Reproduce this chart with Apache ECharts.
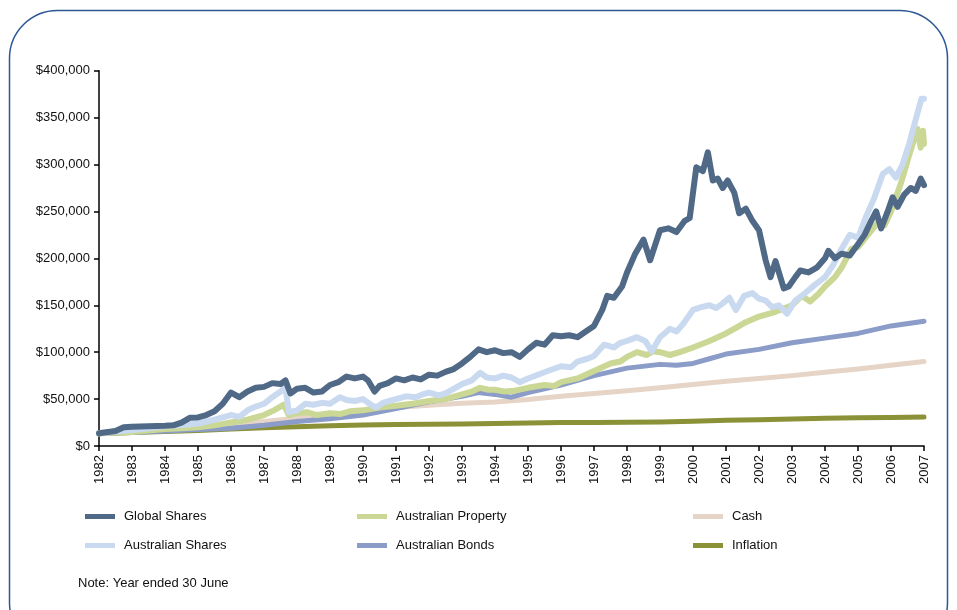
<!DOCTYPE html>
<html>
<head>
<meta charset="utf-8">
<script src="https://cdn.jsdelivr.net/npm/echarts@6/dist/echarts.min.js"></script>
<style>
html,body{margin:0;padding:0;background:#fff;}
#c{width:957px;height:610px;}
</style>
</head>
<body>
<div id="c"></div>
<script>
// Data: [year (year ended 30 June), value in $]
const globalShares = [
[1982.00,13500],[1982.50,16000],[1982.75,20000],[1983.00,20500],[1983.50,21000],[1984.00,21500],[1984.25,22000],
[1984.50,25000],[1984.75,30000],[1985.00,30500],[1985.25,33000],[1985.50,37000],[1985.75,45000],[1986.00,57000],
[1986.25,52000],[1986.50,58000],[1986.75,62000],[1987.00,63000],[1987.25,67000],[1987.50,66000],[1987.65,70000],
[1987.80,56000],[1988.00,61000],[1988.25,62000],[1988.50,57000],[1988.75,58000],[1989.00,65000],[1989.25,68000],
[1989.50,74000],[1989.75,72000],[1990.00,74000],[1990.15,70000],[1990.35,58000],[1990.50,64000],[1990.75,67000],
[1991.00,72000],[1991.25,70000],[1991.50,73000],[1991.75,71000],[1992.00,76000],[1992.25,75000],[1992.50,79000],
[1992.75,82000],[1993.00,88000],[1993.25,95000],[1993.50,103000],[1993.75,100000],[1994.00,102000],[1994.25,99000],
[1994.50,100000],[1994.75,95000],[1995.00,103000],[1995.25,110000],[1995.50,108000],[1995.75,118000],[1996.00,117000],
[1996.25,118000],[1996.50,116000],[1996.75,122000],[1997.00,128000],[1997.25,145000],[1997.40,160000],[1997.60,158000],
[1997.85,170000],[1998.00,185000],[1998.25,205000],[1998.50,220000],[1998.70,198000],[1999.00,230000],[1999.25,232000],
[1999.50,228000],[1999.75,240000],[1999.90,243000],[2000.00,270000],[2000.10,297000],[2000.30,293000],[2000.45,313000],
[2000.60,283000],[2000.75,285000],[2000.90,275000],[2001.05,283000],[2001.25,270000],[2001.40,248000],[2001.60,253000],
[2001.80,240000],[2002.00,230000],[2002.20,198000],[2002.35,180000],[2002.50,197000],[2002.75,168000],[2002.90,170000],
[2003.10,180000],[2003.25,187000],[2003.50,185000],[2003.75,190000],[2004.00,200000],[2004.10,208000],[2004.30,200000],
[2004.50,205000],[2004.75,203000],[2005.00,215000],[2005.20,225000],[2005.40,240000],[2005.55,250000],[2005.70,232000],
[2005.90,250000],[2006.05,265000],[2006.20,255000],[2006.40,268000],[2006.60,275000],[2006.75,272000],[2006.90,285000],
[2007.00,278000]
];
const australianShares = [
[1982.00,13500],[1982.50,15500],[1983.00,17000],[1983.50,19000],[1984.00,21000],[1984.50,22500],[1985.00,24000],
[1985.50,28000],[1986.00,33000],[1986.25,31000],[1986.50,38000],[1986.75,42000],[1987.00,45000],[1987.25,52000],
[1987.50,58000],[1987.65,63000],[1987.75,36000],[1988.00,38000],[1988.25,45000],[1988.50,44000],[1988.75,46000],
[1989.00,45000],[1989.30,52000],[1989.50,49000],[1989.75,48000],[1990.00,50000],[1990.20,45000],[1990.40,41000],
[1990.60,46000],[1990.80,48000],[1991.00,50000],[1991.30,53000],[1991.60,52000],[1991.80,55000],[1992.00,57000],
[1992.30,54000],[1992.50,56000],[1992.80,62000],[1993.00,66000],[1993.30,70000],[1993.55,78000],[1993.75,73000],
[1994.00,72000],[1994.25,75000],[1994.50,73000],[1994.75,68000],[1995.00,72000],[1995.30,76000],[1995.60,80000],
[1996.00,85000],[1996.30,84000],[1996.50,90000],[1996.80,93000],[1997.00,96000],[1997.30,108000],[1997.60,105000],
[1997.80,110000],[1998.00,112000],[1998.30,116000],[1998.55,112000],[1998.75,101000],[1999.00,116000],[1999.30,125000],
[1999.50,122000],[1999.70,130000],[2000.00,145000],[2000.25,148000],[2000.50,150000],[2000.70,147000],[2000.90,152000],
[2001.10,158000],[2001.30,145000],[2001.55,160000],[2001.80,163000],[2002.00,157000],[2002.20,155000],[2002.40,148000],
[2002.60,150000],[2002.85,141000],[2003.10,155000],[2003.40,163000],[2003.70,172000],[2004.00,180000],[2004.25,193000],
[2004.50,210000],[2004.75,225000],[2005.00,222000],[2005.25,245000],[2005.50,265000],[2005.75,290000],[2005.95,295000],
[2006.15,286000],[2006.35,300000],[2006.55,322000],[2006.75,348000],[2006.92,370000],[2007.00,370000]
];
const australianProperty = [
[1982.00,13500],[1982.50,14500],[1983.00,15000],[1983.50,16500],[1984.00,18000],[1984.50,19000],[1985.00,20000],
[1985.50,22000],[1986.00,25000],[1986.50,28000],[1987.00,33000],[1987.30,38000],[1987.60,44000],[1987.75,33000],
[1988.00,35000],[1988.30,36000],[1988.60,33000],[1989.00,35000],[1989.30,34000],[1989.60,37000],[1990.00,38000],
[1990.50,41000],[1991.00,43000],[1991.50,45000],[1992.00,48000],[1992.50,50000],[1993.00,55000],[1993.30,58000],
[1993.55,62000],[1993.80,60000],[1994.00,60000],[1994.30,58000],[1994.60,59000],[1995.00,62000],[1995.50,65000],
[1995.80,64000],[1996.00,68000],[1996.50,72000],[1997.00,80000],[1997.50,88000],[1997.80,90000],[1998.00,95000],
[1998.30,100000],[1998.60,97000],[1998.80,101000],[1999.00,100000],[1999.30,97000],[1999.60,100000],[2000.00,105000],
[2000.50,112000],[2001.00,120000],[2001.30,126000],[2001.60,132000],[2002.00,138000],[2002.50,143000],[2003.00,150000],
[2003.30,160000],[2003.55,154000],[2003.80,162000],[2004.00,170000],[2004.30,180000],[2004.50,190000],[2004.80,210000],
[2005.00,212000],[2005.30,225000],[2005.60,238000],[2005.80,235000],[2006.00,250000],[2006.30,280000],[2006.55,310000],
[2006.80,338000],[2006.90,318000],[2006.97,336000],[2007.00,322000]
];
const australianBonds = [
[1982,13500],[1983,14500],[1984,16000],[1985,17500],[1986,19000],[1987,22000],[1988,26000],[1989,29000],[1990,33000],
[1991,40000],[1992,47000],[1993,53000],[1993.5,57000],[1994,55000],[1994.5,52000],[1995,57000],[1996,65000],[1997,75000],
[1998,83000],[1999,87000],[1999.5,86000],[2000,88000],[2000.5,93000],[2001,98000],[2002,103000],[2003,110000],
[2004,115000],[2005,120000],[2006,128000],[2007,133000]
];
const cash = [
[1982,13500],[1983,15500],[1984,17500],[1985,19500],[1986,22500],[1987,26000],[1988,29500],[1989,33000],[1990,37500],
[1991,41000],[1992,43500],[1993,45500],[1994,47000],[1995,49500],[1996,53000],[1997,56000],[1998,59000],[1999,62000],
[2000,65500],[2001,69000],[2002,72000],[2003,75000],[2004,78500],[2005,82000],[2006,86000],[2007,90000]
];
const inflation = [
[1982,13000],[1983,14300],[1984,15500],[1985,16500],[1986,18000],[1987,19500],[1988,20500],[1989,21500],[1990,22500],
[1991,23000],[1992,23200],[1993,23500],[1994,24000],[1995,24500],[1996,25000],[1997,25000],[1998,25200],[1999,25500],
[2000,26500],[2001,27500],[2002,28000],[2003,28800],[2004,29500],[2005,30000],[2006,30500],[2007,31000]
];
const seriesNames = ['Global Shares','Australian Shares','Australian Property','Australian Bonds','Cash','Inflation'];
const yTicks = [0,50000,100000,150000,200000,250000,300000,350000,400000];

const FONT = '"Liberation Sans Narrow","Arial Narrow","Liberation Sans",Arial,sans-serif';
const colors = {
  'Global Shares':'#4f6986',
  'Australian Shares':'#c9daf0',
  'Australian Property':'#cad795',
  'Australian Bonds':'#8a9cc7',
  'Cash':'#e6d4c6',
  'Inflation':'#8a9137'
};
const dataMap = {
  'Global Shares':globalShares,
  'Australian Shares':australianShares,
  'Australian Property':australianProperty,
  'Australian Bonds':australianBonds,
  'Cash':cash,
  'Inflation':inflation
};
const drawOrder = ['Inflation','Cash','Australian Bonds','Australian Property','Australian Shares','Global Shares'];
const widths = {'Global Shares':6,'Australian Shares':6,'Australian Property':6,'Australian Bonds':5,'Cash':5,'Inflation':5};

const chart = echarts.init(document.getElementById('c'), null, {renderer:'canvas'});
const legendCommon = {
  orient:'vertical', icon:'rect', itemWidth:30, itemHeight:5, itemGap:16,
  textStyle:{fontFamily:FONT,fontSize:13,color:'#111',padding:[0,0,0,4]},
  selectedMode:false
};
const option = {
  animation:false,
  backgroundColor:'#fff',
  textStyle:{fontFamily:FONT},
  grid:{left:99,right:33,top:70.7,bottom:164,containLabel:false},
  xAxis:{
    type:'value', min:1982, max:2007, interval:1,
    axisLine:{lineStyle:{color:'#000',width:1.5}},
    axisTick:{show:true,length:5,lineStyle:{color:'#000',width:1.5}},
    splitLine:{show:false},
    axisLabel:{rotate:90,fontFamily:FONT,fontSize:13,color:'#111',margin:9,formatter:v=>String(v)}
  },
  yAxis:{
    type:'value', min:0, max:400000, interval:50000,
    axisLine:{show:true,lineStyle:{color:'#000',width:1.5}},
    axisTick:{show:true,length:5,lineStyle:{color:'#000',width:1.5}},
    splitLine:{show:false},
    axisLabel:{fontFamily:FONT,fontSize:13,color:'#111',margin:9,
      formatter:v=>'$'+v.toLocaleString('en-US')}
  },
  legend:[
    Object.assign({left:80,top:505,data:['Global Shares','Australian Shares']},legendCommon),
    Object.assign({left:352,top:505,data:['Australian Property','Australian Bonds']},legendCommon),
    Object.assign({left:688,top:505,data:['Cash','Inflation']},legendCommon)
  ],
  graphic:[
    {type:'rect',shape:{x:9.5,y:10.5,width:938,height:640,r:48},
     style:{fill:null,stroke:'#2b5796',lineWidth:1.5},silent:true,z:-10},
    {type:'text',left:78,top:577,style:{text:'Note: Year ended 30 June',fontFamily:FONT,fontSize:13,fill:'#111'}}
  ],
  series: drawOrder.map(n=>({
    name:n, type:'line', data:dataMap[n], showSymbol:false, symbol:'none', smooth:false,
    lineStyle:{color:colors[n],width:widths[n],join:'round',cap:'round'},
    itemStyle:{color:colors[n]}
  }))
};
chart.setOption(option);
</script>
</body>
</html>
